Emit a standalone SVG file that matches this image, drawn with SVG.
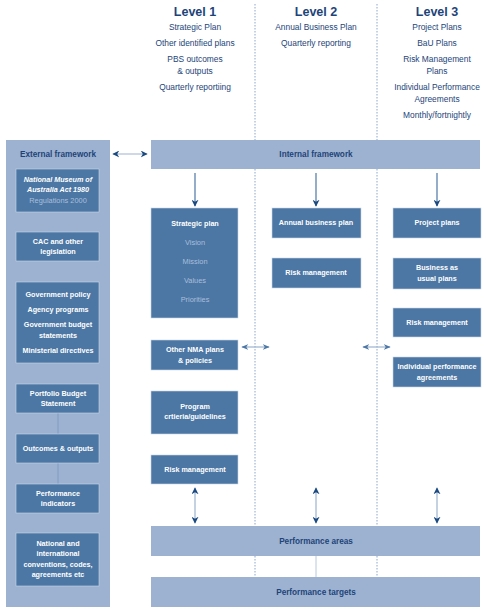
<svg xmlns="http://www.w3.org/2000/svg" width="486" height="612" viewBox="0 0 486 612">
<defs>
<style>
.hd{font-family:"Liberation Sans",Arial,sans-serif;font-size:12.5px;font-weight:bold;fill:#1d4479;text-anchor:middle}
.sub{font-family:"Liberation Sans",Arial,sans-serif;font-size:8.4px;fill:#1d4479;text-anchor:middle}
.dk{fill:#4c77a4;stroke:#c9d6e7;stroke-width:0.6}
.lt{fill:#9db2d0}
.bt{font-family:"Liberation Sans",Arial,sans-serif;font-size:7.2px;font-weight:bold;fill:#ffffff;text-anchor:middle}
.bi{font-family:"Liberation Sans",Arial,sans-serif;font-size:7.2px;font-weight:bold;font-style:italic;fill:#ffffff;text-anchor:middle}
.pale{font-family:"Liberation Sans",Arial,sans-serif;font-size:7.4px;fill:#a9bedb;text-anchor:middle}
.lb{font-family:"Liberation Sans",Arial,sans-serif;font-size:8.2px;font-weight:bold;fill:#1d4479;text-anchor:middle}
.dot{stroke:#8aa6cb;stroke-width:1;stroke-dasharray:1.5 1.5;fill:none}
.sh{stroke:#9db2d0;stroke-width:1.2;fill:none}
.shd{stroke:#4c77a4;stroke-width:1.2;fill:none}
</style>
<marker id="ah" viewBox="0 0 10 10" refX="9" refY="5" markerWidth="7" markerHeight="7" orient="auto-start-reverse" markerUnits="userSpaceOnUse">
<path d="M0,0 L10,5 L0,10 L3,5 Z" fill="#1b4a80"/>
</marker>
<marker id="ahs" viewBox="0 0 10 10" refX="9" refY="5" markerWidth="7" markerHeight="7" orient="auto-start-reverse" markerUnits="userSpaceOnUse">
<path d="M0,1 L10,5 L0,9 L3,5 Z" fill="#4c77a4"/>
</marker>
</defs>
<rect width="486" height="612" fill="#ffffff"/>

<g id="guides">
<line class="dot" x1="255" y1="4" x2="255" y2="577"/>
<line class="dot" x1="377" y1="4" x2="377" y2="577"/>
</g>

<g id="headers">
<text class="hd" x="195" y="16">Level 1</text>
<text class="sub" x="195" y="30">Strategic Plan</text>
<text class="sub" x="195" y="46">Other identified plans</text>
<text class="sub" x="195" y="62">PBS outcomes</text>
<text class="sub" x="195" y="74">&amp; outputs</text>
<text class="sub" x="195" y="90">Quarterly reportiing</text>
<text class="hd" x="316" y="16">Level 2</text>
<text class="sub" x="316" y="30">Annual Business Plan</text>
<text class="sub" x="316" y="46">Quarterly reporting</text>
<text class="hd" x="437" y="16">Level 3</text>
<text class="sub" x="437" y="30">Project Plans</text>
<text class="sub" x="437" y="46">BaU Plans</text>
<text class="sub" x="437" y="62">Risk Management</text>
<text class="sub" x="437" y="74">Plans</text>
<text class="sub" x="437" y="90">Individual Performance</text>
<text class="sub" x="437" y="102">Agreements</text>
<text class="sub" x="437" y="118">Monthly/fortnightly</text>
</g>

<g id="external">
<rect class="lt" x="6" y="140" width="104" height="467"/>
<text class="lb" x="58" y="157">External framework</text>
</g>
<g id="connectors">
<line x1="58" y1="413" x2="58" y2="434" stroke="#7f9cc4" stroke-width="1"/>
<line x1="58" y1="463" x2="58" y2="484" stroke="#7f9cc4" stroke-width="1"/>
<line class="sh" x1="113" y1="154" x2="147" y2="154" marker-start="url(#ah)" marker-end="url(#ah)"/>
<line class="shd" x1="195" y1="173" x2="195" y2="206" marker-end="url(#ah)"/>
<line class="shd" x1="316" y1="173" x2="316" y2="206" marker-end="url(#ah)"/>
<line class="shd" x1="437" y1="173" x2="437" y2="206" marker-end="url(#ah)"/>
<line class="sh" x1="242" y1="347" x2="269" y2="347" marker-start="url(#ahs)" marker-end="url(#ahs)"/>
<line class="sh" x1="363" y1="347" x2="390" y2="347" marker-start="url(#ahs)" marker-end="url(#ahs)"/>
<line class="sh" x1="195" y1="488" x2="195" y2="523" marker-start="url(#ah)" marker-end="url(#ah)"/>
<line class="sh" x1="316" y1="488" x2="316" y2="523" marker-start="url(#ah)" marker-end="url(#ah)"/>
<line class="sh" x1="437" y1="488" x2="437" y2="523" marker-start="url(#ah)" marker-end="url(#ah)"/>
<line x1="316" y1="556" x2="316" y2="577" stroke="#b8c8de" stroke-width="1"/>
</g>

<g id="nma-act">
<rect class="dk" x="16" y="169" width="83" height="43"/>
<text class="bi" x="58" y="182">National Museum of</text>
<text class="bi" x="58" y="192">Australia Act 1980</text>
<text class="pale" x="58" y="203">Regulations 2000</text>
</g>
<g id="cac">
<rect class="dk" x="16" y="232" width="83" height="29"/>
<text class="bt" x="58" y="244">CAC and other</text>
<text class="bt" x="58" y="254">legislation</text>
</g>
<g id="gov-policy">
<rect class="dk" x="16" y="282" width="83" height="81"/>
<text class="bt" x="58" y="297">Government policy</text>
<text class="bt" x="58" y="312">Agency programs</text>
<text class="bt" x="58" y="327">Government budget</text>
<text class="bt" x="58" y="338">statements</text>
<text class="bt" x="58" y="353">Ministerial directives</text>
</g>
<g id="pbs">
<rect class="dk" x="16" y="384" width="83" height="29"/>
<text class="bt" x="58" y="396">Portfolio Budget</text>
<text class="bt" x="58" y="406">Statement</text>
</g>
<g id="outcomes">
<rect class="dk" x="16" y="434" width="83" height="29"/>
<text class="bt" x="58" y="451">Outcomes &amp; outputs</text>
</g>
<g id="perf-indicators">
<rect class="dk" x="16" y="484" width="83" height="29"/>
<text class="bt" x="58" y="496">Performance</text>
<text class="bt" x="58" y="506">indicators</text>
</g>
<g id="conventions">
<rect class="dk" x="16" y="533" width="83" height="53"/>
<text class="bt" x="58" y="546">National and</text>
<text class="bt" x="58" y="556">international</text>
<text class="bt" x="58" y="567">conventions, codes,</text>
<text class="bt" x="58" y="577">agreements etc</text>
</g>

<g id="internal">
<rect class="lt" x="151" y="140" width="329" height="29"/>
<text class="lb" x="316" y="157">Internal framework</text>
</g>

<g id="strategic-plan">
<rect class="dk" x="151" y="208" width="87" height="110"/>
<text class="bt" x="195" y="226">Strategic plan</text>
<text class="pale" x="195" y="245">Vision</text>
<text class="pale" x="195" y="264">Mission</text>
<text class="pale" x="195" y="283">Values</text>
<text class="pale" x="195" y="302">Priorities</text>
</g>
<g id="other-nma">
<rect class="dk" x="151" y="340" width="87" height="30"/>
<text class="bt" x="195" y="352">Other NMA plans</text>
<text class="bt" x="195" y="363">&amp; policies</text>
</g>
<g id="program">
<rect class="dk" x="151" y="391" width="87" height="43"/>
<text class="bt" x="195" y="409">Program</text>
<text class="bt" x="195" y="419">crtieria/guidelines</text>
</g>
<g id="risk1">
<rect class="dk" x="151" y="455" width="87" height="29"/>
<text class="bt" x="195" y="472">Risk management</text>
</g>

<g id="annual">
<rect class="dk" x="272" y="208" width="89" height="30"/>
<text class="bt" x="316" y="225">Annual business plan</text>
</g>
<g id="risk2">
<rect class="dk" x="272" y="258" width="89" height="30"/>
<text class="bt" x="316" y="275">Risk management</text>
</g>

<g id="project">
<rect class="dk" x="393" y="208" width="88" height="30"/>
<text class="bt" x="437" y="225">Project plans</text>
</g>
<g id="bau">
<rect class="dk" x="393" y="258" width="88" height="31"/>
<text class="bt" x="437" y="270">Business as</text>
<text class="bt" x="437" y="281">usual plans</text>
</g>
<g id="risk3">
<rect class="dk" x="393" y="308" width="88" height="29"/>
<text class="bt" x="437" y="325">Risk management</text>
</g>
<g id="individual">
<rect class="dk" x="393" y="357" width="88" height="30"/>
<text class="bt" x="437" y="369">Individual performance</text>
<text class="bt" x="437" y="380">agreements</text>
</g>

<g id="perf-areas">
<rect class="lt" x="151" y="526" width="329" height="30"/>
<text class="lb" x="316" y="544">Performance areas</text>
</g>
<g id="perf-targets">
<rect class="lt" x="151" y="577" width="329" height="30"/>
<text class="lb" x="316" y="595">Performance targets</text>
</g>
</svg>
